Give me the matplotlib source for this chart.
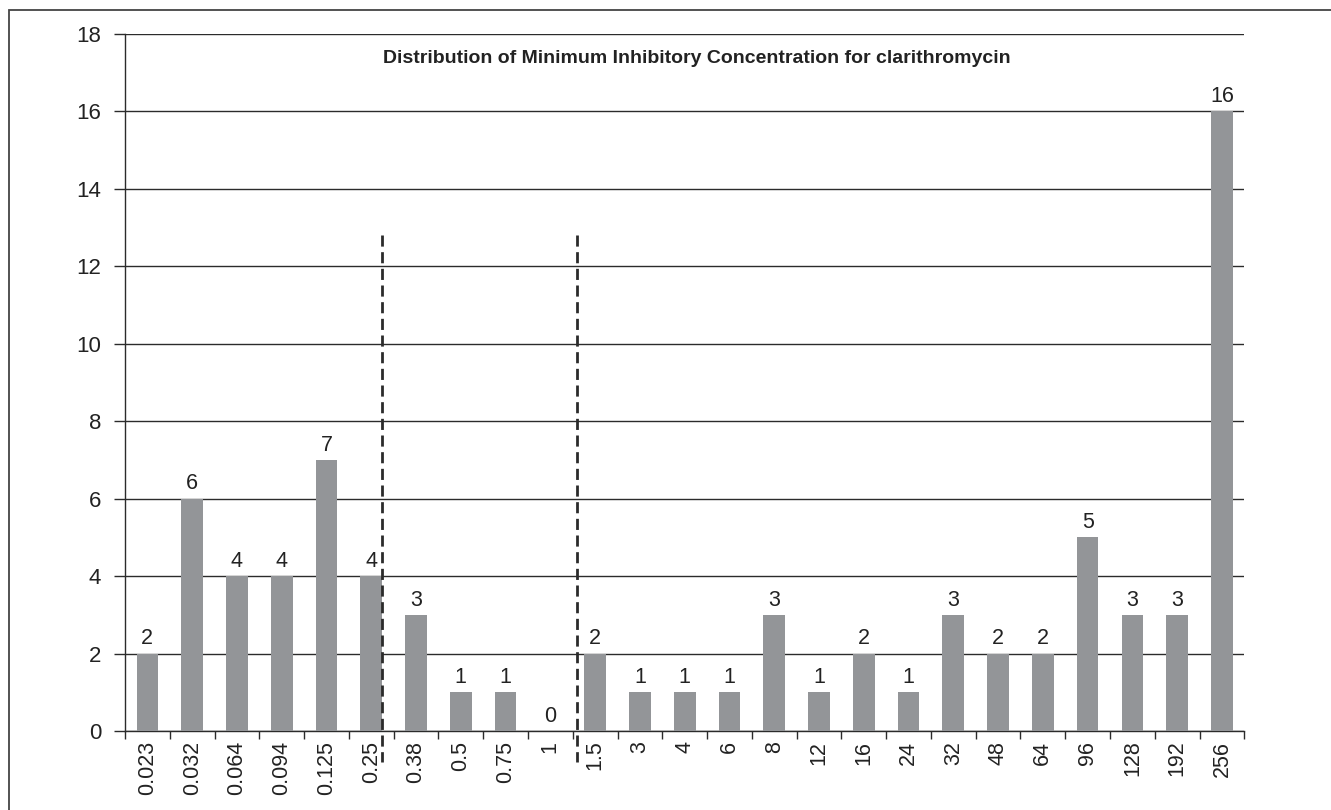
"""MIC distribution bar chart for clarithromycin."""

import matplotlib
matplotlib.use("Agg")
import matplotlib.pyplot as plt
from matplotlib.patches import Rectangle

mic_labels = ["0.023", "0.032", "0.064", "0.094", "0.125", "0.25", "0.38", "0.5",
              "0.75", "1", "1.5", "3", "4", "6", "8", "12", "16", "24", "32", "48",
              "64", "96", "128", "192", "256"]
counts = [2, 6, 4, 4, 7, 4, 3, 1, 1, 0, 2, 1, 1, 1, 3, 1, 2, 1, 3, 2, 2, 5, 3, 3, 16]
y_ticks = [0, 2, 4, 6, 8, 10, 12, 14, 16, 18]
breakpoints = [5.25, 9.59]
title = "Distribution of Minimum Inhibitory Concentration for clarithromycin"

FONT = ["Liberation Sans Narrow", "Liberation Sans", "DejaVu Sans"]
BAR_COLOR = "#939598"
LINE_COLOR = "#2b2b2b"

plt.rcParams["font.family"] = FONT

fig = plt.figure(figsize=(13.31, 8.10), dpi=100)
ax = fig.add_axes([0.0939, 0.0975, 0.8410, 0.8611])

# outer frame of the figure
fig.patches.append(Rectangle((9 / 1331, -0.1), 1.2, 1.0 - 10 / 810 + 0.1,
                             transform=fig.transFigure, fill=False,
                             edgecolor="#444444", linewidth=1.3))

xs = list(range(len(counts)))
ax.bar(xs, counts, width=0.485, color=BAR_COLOR, zorder=3)

for x, v in zip(xs, counts):
    ax.annotate(str(v), (x, v), xytext=(0, 3), textcoords="offset points",
                ha="center", va="bottom", fontsize=15.5, color="#222222")

for bp in breakpoints:
    ax.plot([bp, bp], [12.8, -0.8], color=LINE_COLOR, linewidth=2.0,
            dashes=(4, 2), clip_on=False, zorder=4)

ax.set_xlim(-0.5, len(counts) - 0.5)
ax.set_ylim(0, 18)

ax.set_yticks(y_ticks)
ax.set_yticklabels([str(t) for t in y_ticks], fontsize=16, color="#222222")
ax.yaxis.grid(True, color=LINE_COLOR, linewidth=1.0, zorder=1)
ax.set_axisbelow(True)
ax.tick_params(axis="y", length=8, width=1.0, color=LINE_COLOR, pad=9)

# category labels at centres, tick marks on the boundaries
ax.set_xticks(xs)
ax.set_xticklabels(mic_labels, rotation=90, fontsize=15.5, color="#222222")
ax.tick_params(axis="x", which="major", length=0, pad=7)
ax.set_xticks([x - 0.5 for x in range(len(counts) + 1)], minor=True)
ax.tick_params(axis="x", which="minor", length=6, width=1.0, color=LINE_COLOR)

for side in ("top", "right"):
    ax.spines[side].set_visible(False)
for side in ("left", "bottom"):
    ax.spines[side].set_color(LINE_COLOR)
    ax.spines[side].set_linewidth(1.0)

ax.text(0.511, 0.964, title, transform=ax.transAxes, ha="center", va="center",
        fontsize=14, fontweight="bold", color="#222222")

fig.savefig("out.png", dpi=100)
